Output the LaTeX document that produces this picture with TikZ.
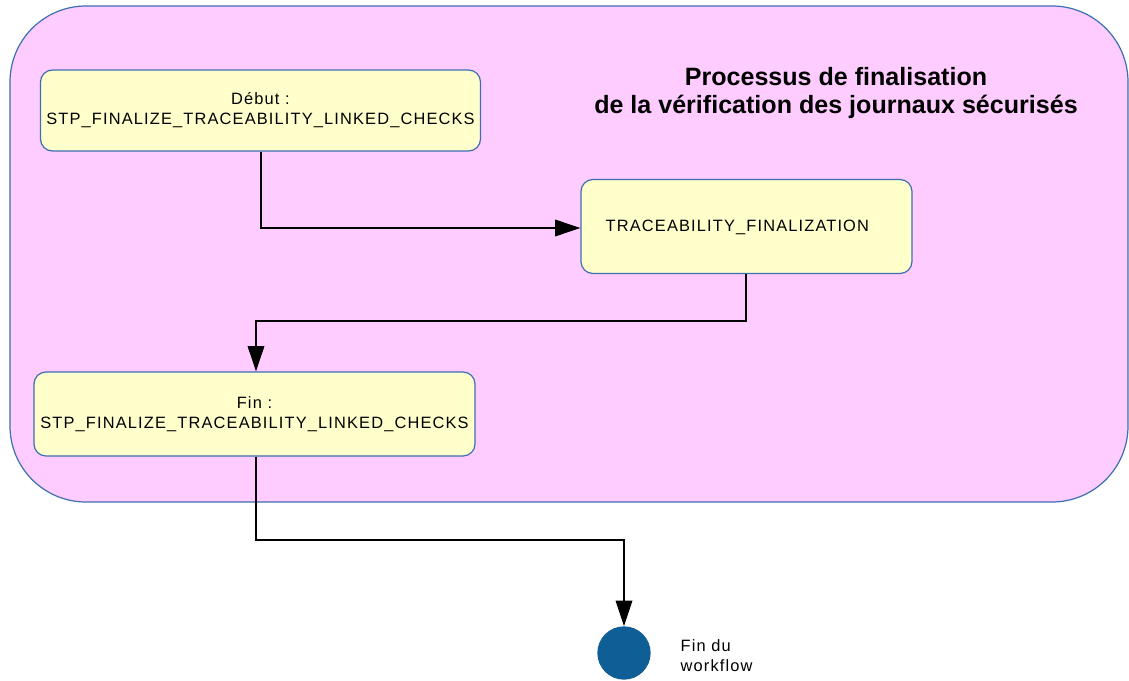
\documentclass[tikz,border=0pt]{standalone}
\usepackage{fontspec}
\setmainfont{Liberation Sans}
\usetikzlibrary{arrows.meta,positioning}
\definecolor{pinkbg}{RGB}{255,204,255}
\definecolor{boxfill}{RGB}{255,255,204}
\definecolor{edgeblue}{RGB}{60,110,180}
\definecolor{endblue}{RGB}{16,94,150}
\newfontfamily\nodefont[LetterSpace=7]{Liberation Sans}
\tikzset{
  stepbox/.style={draw=edgeblue, line width=0.9pt, fill=boxfill, rounded corners=9pt, inner sep=0pt},
  flow/.style={draw=black, line width=0.9pt, -{Triangle[length=19pt,width=12.5pt]}},
  ntext/.style={font=\nodefont\fontsize{12.3pt}{15pt}\selectfont, align=center},
}
\begin{document}
\begin{tikzpicture}[x=0.75pt,y=-0.75pt]
\useasboundingbox (0,0) rectangle (1129,681);
% container
\draw[draw=edgeblue, line width=0.9pt, fill=pinkbg, rounded corners=57pt] (10,6) rectangle (1128,502);
\node[font=\bfseries\fontsize{18.8pt}{21pt}\selectfont, align=center] (title) at (836,93) {Processus de finalisation\\de la vérification des journaux sécurisés};
% boxes
\node[stepbox, minimum width=330pt, minimum height=60.75pt] (start) at (260.5,110.5) {};
\node[ntext] at (start.center) {Début :\\STP\_FINALIZE\_TRACEABILITY\_LINKED\_CHECKS};
\node[stepbox, minimum width=248.25pt, minimum height=70.5pt] (trace) at (746.5,226.5) {};
\node[ntext, anchor=west] at (601,227) {TRACEABILITY\_FINALIZATION};
\node[stepbox, minimum width=330.75pt, minimum height=63pt] (fin) at (254.5,414) {};
\node[ntext] at (fin.center) {Fin :\\STP\_FINALIZE\_TRACEABILITY\_LINKED\_CHECKS};
% end
\node[circle, fill=endblue, minimum size=40pt, inner sep=0pt] (end) at (624,653) {};
\node[ntext, align=left, anchor=west] (endlabel) at (676,656) {Fin du\\workflow};
% connectors
\draw[flow] (start.south -| 261,0) |- (trace.west |- 0,228);
\draw[flow] (trace.south -| 746,0) |- (256,321) -- (fin.north -| 256,0);
\draw[flow] (fin.south -| 256,0) |- (end.north |- 0,540) -- (end.north);
\end{tikzpicture}
\end{document}
